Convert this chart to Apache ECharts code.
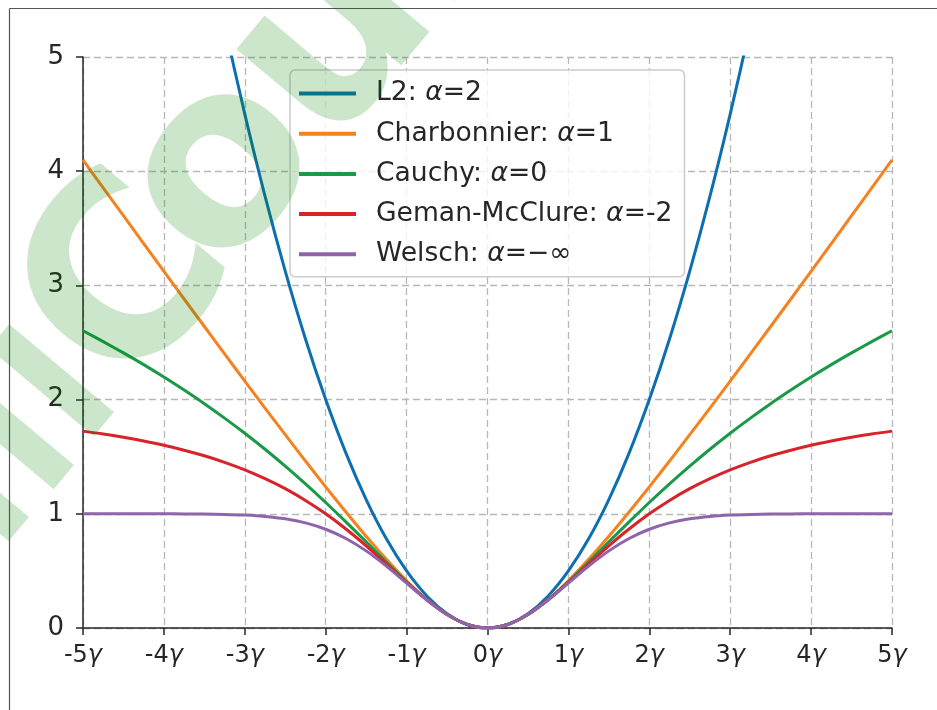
<!DOCTYPE html>
<html>
<head>
<meta charset="utf-8">
<script src="https://cdn.jsdelivr.net/npm/echarts@6/dist/echarts.min.js"></script>
<style>
  html, body { margin: 0; padding: 0; background: #fff; }
  #chart { width: 937px; height: 710px; }
</style>
</head>
<body>
<div id="chart"></div>
<script>
// x in units of gamma
const xs = [-5, -4.75, -4.5, -4.25, -4, -3.75, -3.5, -3.25, -3, -2.75, -2.5, -2.25, -2, -1.75, -1.5, -1.25, -1, -0.75, -0.5, -0.25,
  0, 0.25, 0.5, 0.75, 1, 1.25, 1.5, 1.75, 2, 2.25, 2.5, 2.75, 3, 3.25, 3.5, 3.75, 4, 4.25, 4.5, 4.75, 5]

const l2 = [12.5, 11.28, 10.125, 9.031, 8, 7.031, 6.125, 5.281, 4.5, 3.781, 3.125, 2.531, 2, 1.531, 1.125, 0.781, 0.5, 0.281, 0.125, 0.031,
  0, 0.031, 0.125, 0.281, 0.5, 0.781, 1.125, 1.531, 2, 2.531, 3.125, 3.781, 4.5, 5.281, 6.125, 7.031, 8, 9.031, 10.125, 11.28, 12.5]
const charbonnier = [4.099, 3.854, 3.610, 3.366, 3.123, 2.881, 2.640, 2.400, 2.162, 1.926, 1.693, 1.462, 1.236, 1.016, 0.803, 0.601, 0.414, 0.25, 0.118, 0.031,
  0, 0.031, 0.118, 0.25, 0.414, 0.601, 0.803, 1.016, 1.236, 1.462, 1.693, 1.926, 2.162, 2.400, 2.640, 2.881, 3.123, 3.366, 3.610, 3.854, 4.099]
const cauchy = [2.603, 2.508, 2.409, 2.306, 2.197, 2.083, 1.964, 1.838, 1.705, 1.565, 1.417, 1.262, 1.099, 0.929, 0.754, 0.577, 0.405, 0.248, 0.118, 0.031,
  0, 0.031, 0.118, 0.248, 0.405, 0.577, 0.754, 0.929, 1.099, 1.262, 1.417, 1.565, 1.705, 1.838, 1.964, 2.083, 2.197, 2.306, 2.409, 2.508, 2.603]
const gemanMcClure = [1.724, 1.699, 1.670, 1.637, 1.6, 1.557, 1.508, 1.451, 1.385, 1.308, 1.220, 1.117, 1, 0.867, 0.72, 0.562, 0.4, 0.247, 0.118, 0.031,
  0, 0.031, 0.118, 0.247, 0.4, 0.562, 0.72, 0.867, 1, 1.117, 1.220, 1.308, 1.385, 1.451, 1.508, 1.557, 1.6, 1.637, 1.670, 1.699, 1.724]
const welsch = [1, 1, 1, 0.9999, 0.9997, 0.9991, 0.9978, 0.9949, 0.9889, 0.9772, 0.9561, 0.9204, 0.8647, 0.7837, 0.6753, 0.5422, 0.3935, 0.2452, 0.1175, 0.031,
  0, 0.031, 0.1175, 0.2452, 0.3935, 0.5422, 0.6753, 0.7837, 0.8647, 0.9204, 0.9561, 0.9772, 0.9889, 0.9949, 0.9978, 0.9991, 0.9997, 0.9999, 1, 1, 1]

const seriesNames = ['L2', 'Charbonnier', 'Cauchy', 'Geman-McClure', 'Welsch']
const alphaLabels = ['2', '1', '0', '-2', '\u2212\u221e']
const colors = ['#0c70b0', '#f5821f', '#1a9a48', '#d8232a', '#8e64ab']
const seriesData = [l2, charbonnier, cauchy, gemanMcClure, welsch]

const font = 'DejaVu Sans'
const chart = echarts.init(document.getElementById('chart'))

const series = seriesNames.map((name, i) => ({
  name: name,
  type: 'line',
  data: xs.map((x, j) => [x, seriesData[i][j]]),
  showSymbol: false,
  smooth: 0.3,
  clip: true,
  lineStyle: { width: 3, color: colors[i] },
  itemStyle: { color: colors[i] }
}))

// watermark letters, placed one by one along a tilted baseline
const wmRot = 50 * Math.PI / 180
const watermark = [
  ['l', 68, 394, 180],
  ['l', 28, 447, 180],
  ['l', -17, 499, 180],
  ['C', 134, 290, 250],
  ['o', 226, 173, 250],
  ['u', 336, 42, 250],
  ['r', 431, -72, 250]
].map(([ch, x, y, size]) => ({
  type: 'text',
  x: x,
  y: y,
  rotation: wmRot,
  z: 100,
  silent: true,
  style: {
    text: ch,
    font: 'bold ' + size + 'px "DejaVu Sans"',
    fill: 'rgba(0,128,0,0.2)',
    align: 'center',
    verticalAlign: 'middle'
  }
}))

chart.setOption({
  animation: false,
  grid: { left: 83, right: 45, top: 57, bottom: 82 },
  xAxis: {
    type: 'value',
    min: -5,
    max: 5,
    interval: 1,
    axisLine: { lineStyle: { color: '#262626', width: 1.5 } },
    axisTick: { length: 7, lineStyle: { color: '#262626', width: 1.5 } },
    axisLabel: {
      margin: 16,
      formatter: v => '{n|' + v + '}{g|\u03b3}',
      rich: {
        n: { fontFamily: font, fontSize: 24, color: '#262626' },
        g: { fontFamily: font, fontSize: 24, fontStyle: 'italic', color: '#262626' }
      }
    },
    splitLine: { show: true, lineStyle: { color: '#b8b8b8', type: [7, 4], width: 1.3 } }
  },
  yAxis: {
    type: 'value',
    min: 0,
    max: 5,
    interval: 1,
    axisLine: { show: true, onZero: false, lineStyle: { color: '#262626', width: 1.5 } },
    axisTick: { show: true, length: 7, lineStyle: { color: '#262626', width: 1.5 } },
    axisLabel: { margin: 19, fontFamily: font, fontSize: 26, color: '#262626' },
    splitLine: { show: true, lineStyle: { color: '#b8b8b8', type: [7, 4], width: 1.3 } }
  },
  legend: {
    orient: 'vertical',
    left: 290,
    top: 70,
    padding: [10, 12, 9, 9],
    itemGap: 13.2,
    itemWidth: 57,
    itemHeight: 4,
    icon: 'rect',
    borderColor: '#cccccc',
    borderWidth: 1.5,
    borderRadius: 5,
    backgroundColor: 'rgba(255,255,255,0.8)',
    data: seriesNames,
    formatter: name => {
      const i = seriesNames.indexOf(name)
      return '{sp|}{t|' + name + ': }{a|\u03b1}{t|=' + alphaLabels[i] + '}'
    },
    textStyle: {
      rich: {
        sp: { width: 15 },
        t: { fontFamily: font, fontSize: 26.6, color: '#262626' },
        a: { fontFamily: font, fontSize: 26.6, fontStyle: 'italic', color: '#262626' }
      }
    }
  },
  graphic: [
    // figure frame
    { type: 'line', shape: { x1: 9.5, y1: 8.5, x2: 937, y2: 8.5 }, style: { stroke: '#555', lineWidth: 1.2 }, z: 100 },
    { type: 'line', shape: { x1: 9.5, y1: 8.5, x2: 9.5, y2: 710 }, style: { stroke: '#555', lineWidth: 1.2 }, z: 100 }
  ].concat(watermark),
  series: series
})
</script>
</body>
</html>
